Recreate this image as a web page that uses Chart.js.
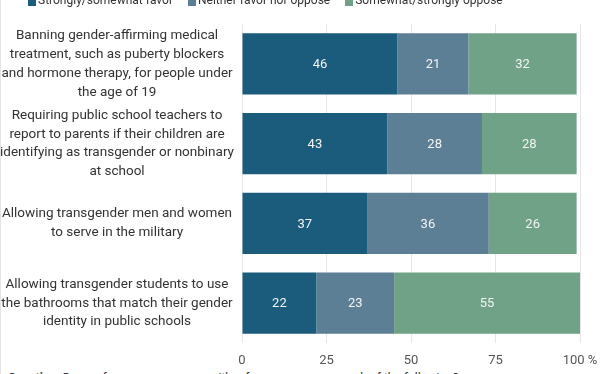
<!DOCTYPE html>
<html>
<head>
<meta charset="utf-8">
<script src="https://cdn.jsdelivr.net/npm/chart.js@4.4.1/dist/chart.umd.min.js"></script>
<style>
  html, body { margin: 0; padding: 0; background: #fff; }
  body { width: 612px; height: 374px; overflow: hidden; position: relative; font-family: Roboto, sans-serif; }
  #wrap { position: absolute; left: 0; top: 0; width: 612px; height: 366px; }
  #edge { position: absolute; left: 0; top: 0; width: 1px; height: 374px; background: #e4e4e4; }
  #legend { position: absolute; left: 28px; top: -7px; display: flex; font-size: 12px; color: #333; line-height: 14px; white-space: nowrap; }
  #legend .item { display: flex; align-items: flex-end; margin-right: 15px; }
  #legend .box { width: 8px; height: 9px; margin-right: 2px; margin-bottom: 1px; }
  #note { position: absolute; left: 8px; top: 371px; font-size: 12px; color: #333; white-space: nowrap; }
</style>
</head>
<body>
<div id="edge"></div>
<div id="wrap"><canvas id="idStackedBars" width="612" height="366"></canvas></div>
<div id="legend"></div>
<div id="note"><b>Question:</b> Do you favor or oppose, or neither favor nor oppose, each of the following?</div>
<script>
        const categories = [
            ['Banning gender-affirming medical', 'treatment, such as puberty blockers', 'and hormone therapy, for people under', 'the age of 19'],
            ['Requiring public school teachers to', 'report to parents if their children are', 'identifying as transgender or nonbinary', 'at school'],
            ['Allowing transgender men and women', 'to serve in the military'],
            ['Allowing transgender students to use', 'the bathrooms that match their gender', 'identity in public schools']
        ];
        const series_names = ['Strongly/somewhat favor', 'Neither favor nor oppose', 'Somewhat/strongly oppose'];
        const favor   = [46, 43, 37, 22];
        const neither = [21, 28, 36, 23];
        const oppose  = [32, 28, 26, 55];
        const x_ticks = [0, 25, 50, 75, 100];

        const colors = ['#1b5b7b', '#5c7f95', '#6fa287'];

        // legend drawn as html, the top of it is cut off like in the picture
        var legend = document.getElementById('legend');
        series_names.forEach(function (name, i) {
            let item = document.createElement('span');
            item.className = 'item';
            let box = document.createElement('span');
            box.className = 'box';
            box.style.background = colors[i];
            item.appendChild(box);
            let txt = document.createElement('span');
            txt.textContent = name;
            item.appendChild(txt);
            legend.appendChild(item);
        });

        // writes the value in the middle of every bar
        var valueLabels = {
            id: 'valueLabels',
            afterDatasetsDraw(chart) {
                const ctx = chart.ctx;
                ctx.save();
                ctx.font = '13px Roboto, sans-serif';
                ctx.fillStyle = '#f4f4f4';
                ctx.textAlign = 'center';
                ctx.textBaseline = 'middle';
                chart.data.datasets.forEach(function (ds, i) {
                    chart.getDatasetMeta(i).data.forEach(function (bar, j) {
                        const p = bar.getProps(['x', 'y', 'base'], true);
                        ctx.fillText(ds.data[j], (p.x + p.base) / 2, p.y + 1);
                    });
                });
                ctx.restore();
            }
        };

        var data = {
            labels: categories,
            datasets: [
                { label: series_names[0], data: favor,   backgroundColor: colors[0] },
                { label: series_names[1], data: neither, backgroundColor: colors[1] },
                { label: series_names[2], data: oppose,  backgroundColor: colors[2] }
            ]
        };

        var options = {
            indexAxis: 'y',
            responsive: false,
            animation: false,
            datasets: {
                bar: { barPercentage: 0.765, categoryPercentage: 1, borderWidth: 0 }
            },
            layout: { padding: { left: 0, right: 32, top: 24, bottom: 0 } },
            scales: {
                x: {
                    stacked: true,
                    min: 0,
                    max: 100,
                    afterBuildTicks: function (scale) {
                        scale.ticks = x_ticks.map(v => ({ value: v }));
                    },
                    afterFit: function (scale) {
                        scale.height = 23;
                        scale.paddingLeft = 0;
                    },
                    grid: { color: '#e6e6e6', drawTicks: false },
                    border: { display: false },
                    ticks: {
                        padding: 10,
                        color: '#555',
                        font: { family: 'Roboto', size: 13 },
                        callback: function (v) { return v === 100 ? '100 %' : v; }
                    }
                },
                y: {
                    stacked: true,
                    afterFit: function (scale) {
                        // long labels must not push the plot area in
                        scale.width = 242;
                        scale.paddingTop = 0;
                        scale.paddingBottom = 0;
                    },
                    grid: { display: false, drawTicks: false },
                    border: { display: false },
                    ticks: {
                        crossAlign: 'center',
                        padding: 8,
                        color: '#333',
                        font: { family: 'Roboto', size: 13.5, lineHeight: 1.4 }
                    }
                }
            },
            plugins: {
                legend: { display: false },
                tooltip: { enabled: false }
            }
        };

        var ctx = document.getElementById('idStackedBars').getContext('2d');
        var idStackedBars = new Chart(ctx, {
            type: 'bar',
            data: data,
            options: options,
            plugins: [valueLabels]
        });
</script>
</body>
</html>
